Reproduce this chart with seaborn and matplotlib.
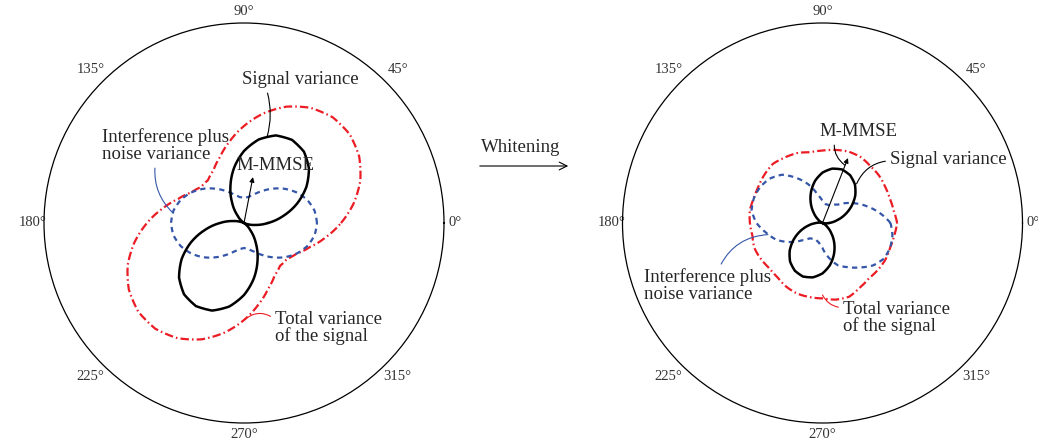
import numpy as np
import matplotlib
matplotlib.use("Agg")
import matplotlib.pyplot as plt
import seaborn as sns

# sample directions of the polar curves (degrees)
angles_deg = list(range(0, 360, 10))

# left panel (before whitening), radius as fraction of outer circle
left_signal = [0.12, 0.198, 0.282, 0.36, 0.424, 0.466, 0.48, 0.466, 0.424, 0.36, 0.282, 0.198,
               0.12, 0.056, 0.014, 0.0, 0.014, 0.056,
               0.12, 0.198, 0.282, 0.36, 0.424, 0.466, 0.48, 0.466, 0.424, 0.36, 0.282, 0.198,
               0.12, 0.056, 0.014, 0.0, 0.014, 0.056]
left_interf = [0.365, 0.358, 0.337, 0.305, 0.266, 0.224, 0.185, 0.153, 0.132, 0.125, 0.132, 0.153,
               0.185, 0.224, 0.266, 0.305, 0.337, 0.358,
               0.365, 0.358, 0.337, 0.305, 0.266, 0.224, 0.185, 0.153, 0.132, 0.125, 0.132, 0.153,
               0.185, 0.224, 0.266, 0.305, 0.337, 0.358]
left_total = [0.485, 0.556, 0.619, 0.665, 0.69, 0.69, 0.665, 0.619, 0.556, 0.485, 0.414, 0.351,
              0.305, 0.28, 0.28, 0.305, 0.351, 0.414,
              0.485, 0.556, 0.619, 0.665, 0.69, 0.69, 0.665, 0.619, 0.556, 0.485, 0.414, 0.351,
              0.305, 0.28, 0.28, 0.305, 0.351, 0.414]
left_mmse = (79.0, 0.234)  # direction (deg), length

# right panel (after whitening)
right_signal = [0.033, 0.071, 0.118, 0.167, 0.214, 0.252, 0.276, 0.285, 0.276, 0.252, 0.214, 0.167,
                0.118, 0.071, 0.033, 0.009, 0.0, 0.009,
                0.033, 0.071, 0.118, 0.167, 0.214, 0.252, 0.276, 0.285, 0.276, 0.252, 0.214, 0.167,
                0.118, 0.071, 0.033, 0.009, 0.0, 0.009]
right_interf = [0.34, 0.29, 0.24, 0.195, 0.155, 0.12, 0.105, 0.095, 0.095, 0.11, 0.145, 0.205,
                0.26, 0.315, 0.345, 0.36, 0.365, 0.36, 0.33, 0.285, 0.245, 0.19, 0.135, 0.10,
                0.09, 0.09, 0.10, 0.125, 0.175, 0.225, 0.255, 0.29, 0.33, 0.355, 0.36, 0.355]
right_total = [0.373, 0.361, 0.358, 0.362, 0.369, 0.372, 0.381, 0.38, 0.371, 0.362, 0.359, 0.372,
               0.378, 0.386, 0.378, 0.369, 0.365, 0.369, 0.363, 0.356, 0.363, 0.357, 0.349, 0.352,
               0.366, 0.375, 0.376, 0.377, 0.389, 0.392, 0.373, 0.361, 0.363, 0.364, 0.36, 0.364]
right_mmse = (68.6, 0.349)

tick_angles = [0, 45, 90, 135, 180, 225, 270, 315]
tick_labels = ["0°", "45°", "90°", "135°", "180°", "225°", "270°", "315°"]

RED = "#ec1c24"
BLUE = "#3556a8"
W, H = 1038, 445
FS = 13.5

sns.set_style("white")
plt.rcParams["font.family"] = ["Liberation Serif", "DejaVu Serif"]


def fpos(x, y):
    """pixel position (from top-left) -> figure fraction"""
    return (x / W, 1 - y / H)


def draw_curve(ax, radii, color, ls, lw):
    theta = np.deg2rad(angles_deg + [360])
    r = list(radii) + [radii[0]]
    sns.lineplot(x=theta, y=r, ax=ax, sort=False, estimator=None,
                 color=color, linewidth=lw, linestyle=ls)
    # let the polar transform draw each segment as a spiral arc, not a chord
    line = ax.lines[-1]
    line.get_path()._interpolation_steps = 10
    line._transformed_path = None


def setup_polar(ax):
    ax.set_ylim(0, 1)
    ax.set_yticks([])
    ax.set_thetagrids(tick_angles, tick_labels)
    ax.grid(False)
    ax.set_xlabel("")
    ax.set_ylabel("")
    ax.spines["polar"].set_linewidth(0.9)
    ax.spines["polar"].set_color("black")
    ax.tick_params(axis="x", labelsize=10.5, labelcolor="#333333")
    # cardinal labels sit closer to the circle than the diagonal ones
    for ang, tick in zip(tick_angles, ax.xaxis.get_major_ticks()):
        tick.set_pad(-2.5 if ang % 90 == 0 else 2.0)


def connector(ax, text, xy, xytext, color, relpos, rad, ha="left"):
    ax.annotate(text, xy=(np.deg2rad(xy[0]), xy[1]), xycoords="data",
                xytext=fpos(*xytext), textcoords="figure fraction",
                ha=ha, va="center", fontsize=FS, linespacing=1.0,
                arrowprops=dict(arrowstyle="-", color=color, lw=0.8, relpos=relpos,
                                shrinkA=1, shrinkB=0,
                                connectionstyle=f"arc3,rad={rad}"))


def mmse_arrow(ax, mmse):
    ax.annotate("", xy=(np.deg2rad(mmse[0]), mmse[1]), xytext=(0, 0),
                arrowprops=dict(arrowstyle="-|>", color="black", lw=0.8,
                                mutation_scale=7, shrinkA=0, shrinkB=0))


fig = plt.figure(figsize=(W / 100, H / 100), dpi=100)
ax_l = fig.add_axes([44 / W, 22 / H, 400 / W, 400 / H], projection="polar")
ax_r = fig.add_axes([622.5 / W, 22 / H, 400 / W, 400 / H], projection="polar")

red_ls = (0, (3.8, 1.4, 0.7, 1.4))
blue_ls = (0, (2.4, 1.9))

for ax, sig, itf, tot in [(ax_l, left_signal, left_interf, left_total),
                          (ax_r, right_signal, right_interf, right_total)]:
    draw_curve(ax, tot, RED, red_ls, 1.6)
    draw_curve(ax, itf, BLUE, blue_ls, 1.6)
    draw_curve(ax, sig, "black", "-", 1.8)
    setup_polar(ax)

# left annotations
mmse_arrow(ax_l, left_mmse)
connector(ax_l, "Signal variance", (75, 0.448), (300, 80), "black", (0.21, 0), -0.15, ha="center")
connector(ax_l, "Interference plus\nnoise variance", (172, 0.358), (102, 146), BLUE, (0.42, 0), 0.25)
connector(ax_l, "Total variance\nof the signal", (270, 0.485), (275, 328), RED, (0, 0.75), 0.4)
ax_l.text(*fpos(275, 166), "M-MMSE", transform=fig.transFigure, ha="center", va="center", fontsize=FS)

# right annotations
mmse_arrow(ax_r, right_mmse)
connector(ax_r, "M-MMSE", (68.8, 0.31), (858, 132), "black", (0.2, 0), 0.3, ha="center")
connector(ax_r, "Signal variance", (49, 0.26), (890, 159), "black", (0, 0.4), 0.3)
connector(ax_r, "Interference plus\nnoise variance", (192, 0.279), (644, 286), BLUE, (0.59, 1), -0.3)
connector(ax_r, "Total variance\nof the signal", (270, 0.36), (843, 318), RED, (0, 0.8), -0.3)

# whitening arrow between the panels
fig.text(*fpos(521, 148), "Whitening", ha="center", va="center", fontsize=FS)
fig.add_artist(matplotlib.patches.FancyArrowPatch(
    fpos(477, 166), fpos(571, 166), transform=fig.transFigure,
    arrowstyle="->", mutation_scale=14, color="black", lw=0.8))

fig.savefig("out.png", dpi=100)
plt.close(fig)
